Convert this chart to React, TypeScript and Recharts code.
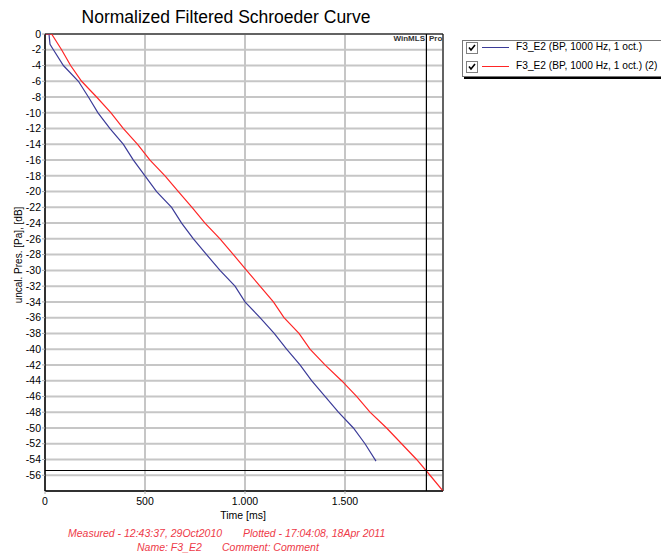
import React from "react";
import {
  LineChart,
  Line,
  XAxis,
  YAxis,
  CartesianGrid,
  ReferenceLine,
  ReferenceArea,
} from "recharts";

// ---- data ----
const blueTimes = [0, 20, 25, 42, 92, 167, 217, 265, 325, 392, 442, 500, 558, 633, 683, 742, 808, 875, 950, 1000, 1075, 1146, 1208, 1275, 1333, 1400, 1467, 1542, 1600, 1655];
const blueDb = [0, 0, -1.3, -2, -4, -6, -8, -10, -12, -14, -16, -18, -20, -22, -24, -26, -28, -30, -32, -34, -36, -38, -40, -42, -44, -46, -48, -50, -52, -54.2];

const redTimes = [0, 33, 83, 128, 183, 258, 330, 392, 463, 525, 600, 667, 735, 800, 875, 942, 1008, 1075, 1142, 1195, 1270, 1325, 1400, 1483, 1558, 1625, 1708, 1783, 1858, 1925, 1990];
const redDb = [0, 0, -2, -4, -6, -8, -10, -12, -14, -16, -18, -20, -22, -24, -26, -28, -30, -32, -34, -36, -38, -40, -42, -44, -46, -48, -50, -52, -54, -56, -58];

const xTicks = [0, 500, 1000, 1500];
const yTicks = [0, -2, -4, -6, -8, -10, -12, -14, -16, -18, -20, -22, -24, -26, -28, -30, -32, -34, -36, -38, -40, -42, -44, -46, -48, -50, -52, -54, -56];
const xDomain = [0, 1990];
const yDomain = [-58, 0];
const cursorTime = 1907;
const cursorDb = -55.4;

const seriesNames = ["F3_E2 (BP, 1000 Hz, 1 oct.)", "F3_E2 (BP, 1000 Hz, 1 oct.) (2)"];
const title = "Normalized Filtered Schroeder Curve";
const xLabel = "Time [ms]";
const yLabel = "uncal. Pres. [Pa], [dB]";

const blueData = blueTimes.map((t, i) => ({ t, db: blueDb[i] }));
const redData = redTimes.map((t, i) => ({ t, db: redDb[i] }));

const BLUE = "#3b3b98";
const RED = "#ff2626";
const FOOT = "#ee3a48";
const FONT = "'Liberation Sans', Arial, sans-serif";

const fmtX = (v: number) => (v >= 1000 ? `${Math.floor(v / 1000)}.${String(v % 1000).padStart(3, "0")}` : String(v));

const Check = ({ top }: { top: number }) => (
  <div style={{ position: "absolute", left: 466, top, width: 10, height: 10, border: "1px solid #808080", background: "#fff" }}>
    <svg width={10} height={10} style={{ position: "absolute", left: 0, top: 0 }}>
      <path d="M2 4.5 L4 7 L8 2" stroke="#000" strokeWidth={1.6} fill="none" />
    </svg>
  </div>
);

export default function App() {
  return (
    <div style={{ position: "absolute", left: 0, top: 0, width: 661, height: 556, background: "#fff", fontFamily: FONT, overflow: "hidden" }}>
      <LineChart width={661} height={556} data={redData} margin={{ top: 34, right: 218, bottom: 35, left: 0 }}>
        <CartesianGrid stroke="#c6c6c6" strokeWidth={2} />
        <XAxis
          type="number"
          dataKey="t"
          domain={xDomain}
          ticks={xTicks}
          allowDataOverflow
          height={30}
          tickFormatter={fmtX}
          tick={{ fontSize: 10.5, fill: "#000", fontFamily: FONT }}
          tickSize={3}
          tickMargin={4}
          tickLine={{ stroke: "#aaa" }}
          axisLine={{ stroke: "#000" }}
        />
        <YAxis
          type="number"
          domain={yDomain}
          ticks={yTicks}
          allowDataOverflow
          width={45}
          interval={0}
          tick={{ fontSize: 10.5, fill: "#000", fontFamily: FONT }}
          tickSize={3}
          tickMargin={1}
          tickLine={{ stroke: "#aaa" }}
          axisLine={{ stroke: "#000" }}
        />
        <ReferenceArea x1={xDomain[0]} x2={xDomain[1]} y1={yDomain[0]} y2={yDomain[1]} fill="none" stroke="#000" strokeWidth={1} />
        <Line data={blueData} dataKey="db" type="linear" stroke={BLUE} strokeWidth={1.2} dot={false} isAnimationActive={false} />
        <Line data={redData} dataKey="db" type="linear" stroke={RED} strokeWidth={1.2} dot={false} isAnimationActive={false} />
        <ReferenceLine x={cursorTime} stroke="#000" strokeWidth={1.2} />
        <ReferenceLine y={cursorDb} stroke="#000" strokeWidth={1.2} />
      </LineChart>

      {/* title */}
      <div style={{ position: "absolute", left: 0, width: 452, top: 7, textAlign: "center", fontSize: 17.5, color: "#000", whiteSpace: "nowrap" }}>{title}</div>

      {/* WinMLS Pro */}
      <div style={{ position: "absolute", left: 370, width: 55, top: 34, textAlign: "right", fontSize: 8, fontWeight: "bold", color: "#333", lineHeight: "9px" }}>WinMLS</div>
      <div style={{ position: "absolute", left: 429, top: 34, fontSize: 8, fontWeight: "bold", color: "#333", lineHeight: "9px" }}>Pro</div>

      {/* axis titles */}
      <div style={{ position: "absolute", left: 18, top: 255, transform: "translate(-50%,-50%) rotate(-90deg)", fontSize: 10, whiteSpace: "nowrap", color: "#000" }}>{yLabel}</div>
      <div style={{ position: "absolute", left: 243, top: 515, transform: "translate(-50%,-50%)", fontSize: 10.5, whiteSpace: "nowrap", color: "#000" }}>{xLabel}</div>

      {/* footer */}
      <div style={{ position: "absolute", left: 68, top: 527, fontSize: 10.5, fontStyle: "italic", color: FOOT, whiteSpace: "nowrap" }}>Measured - 12:43:37, 29Oct2010</div>
      <div style={{ position: "absolute", left: 243, top: 527, fontSize: 10.5, fontStyle: "italic", color: FOOT, whiteSpace: "nowrap" }}>Plotted - 17:04:08, 18Apr 2011</div>
      <div style={{ position: "absolute", left: 137, top: 541, fontSize: 10.5, fontStyle: "italic", color: FOOT, whiteSpace: "nowrap" }}>Name: F3_E2</div>
      <div style={{ position: "absolute", left: 222, top: 541, fontSize: 10.5, fontStyle: "italic", color: FOOT, whiteSpace: "nowrap" }}>Comment: Comment</div>

      {/* legend */}
      <div style={{ position: "absolute", left: 462, top: 40, width: 220, height: 35, border: "1px solid #777", background: "#fff", boxShadow: "2px 2px 0 #000" }} />
      <Check top={42} />
      <Check top={61} />
      <div style={{ position: "absolute", left: 482, top: 47, width: 27, height: 1, background: BLUE }} />
      <div style={{ position: "absolute", left: 482, top: 66, width: 27, height: 1, background: RED }} />
      <div style={{ position: "absolute", left: 516, top: 41, fontSize: 10.2, color: "#000", whiteSpace: "nowrap", lineHeight: "12px" }}>{seriesNames[0]}</div>
      <div style={{ position: "absolute", left: 516, top: 60, fontSize: 10.2, color: "#000", whiteSpace: "nowrap", lineHeight: "12px" }}>{seriesNames[1]}</div>
    </div>
  );
}
